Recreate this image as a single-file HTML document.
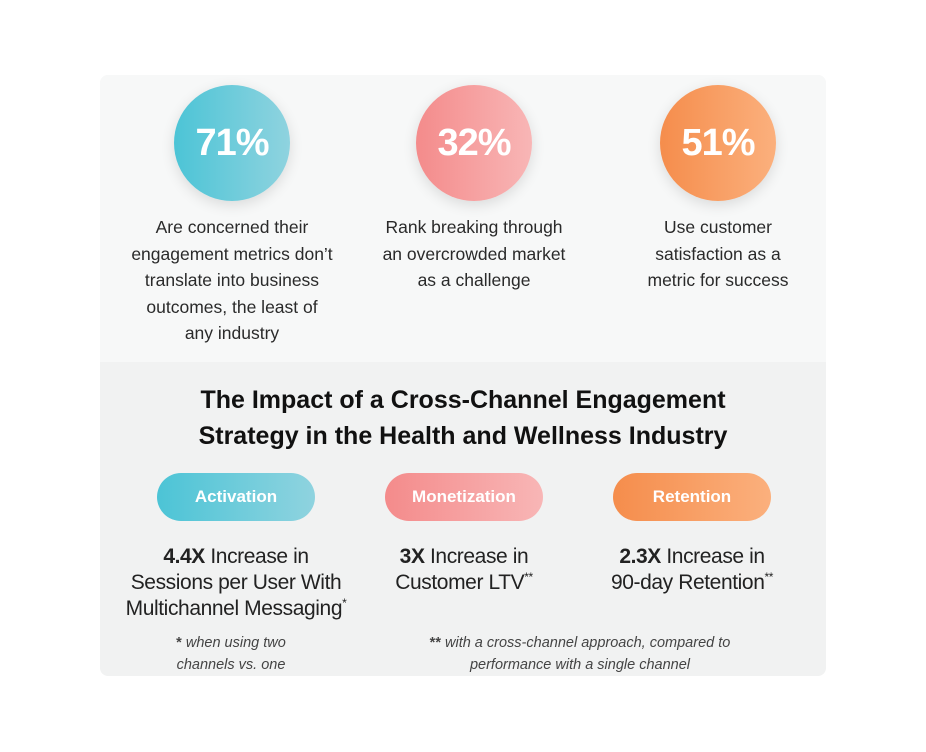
<!DOCTYPE html>
<html><head><meta charset="utf-8"><style>
body{margin:0;width:926px;height:752px;background:#fff;font-family:"Liberation Sans",sans-serif;position:relative;overflow:hidden}
.a{position:absolute}
.card{left:100px;top:75px;width:726px;height:601px;border-radius:8px;background:#f1f2f2;overflow:hidden}
.top{left:0;top:0;width:726px;height:287px;background:#f7f8f8}
.circ{width:116px;height:116px;border-radius:50%;color:#fff;font-weight:bold;font-size:38px;display:flex;align-items:center;justify-content:center;box-shadow:0 4px 14px rgba(0,0,0,.12);letter-spacing:-1px}
.desc{width:240px;text-align:center;font-size:17.5px;line-height:26.5px;color:#2a2a2a}
.pill{width:158px;height:48px;border-radius:24px;color:#fff;font-weight:bold;font-size:17px;display:flex;align-items:center;justify-content:center}
.big{width:280px;text-align:center;font-size:21px;line-height:26px;color:#222;letter-spacing:-0.4px}
.sp{font-size:12px;line-height:0;vertical-align:8px}
.foot{text-align:center;font-style:italic;font-size:14.5px;line-height:22px;color:#444}
.teal{background:linear-gradient(90deg,#4cc4d6,#8fd3df)}
.pink{background:linear-gradient(90deg,#f48b8b,#f8b6b6)}
.orng{background:linear-gradient(90deg,#f58d4c,#fbb07d)}
</style></head><body>
<div class="a card">
<div class="a top"></div>
<div class="a circ teal" style="left:74px;top:10px">71%</div>
<div class="a circ pink" style="left:316px;top:10px">32%</div>
<div class="a circ orng" style="left:560px;top:10px">51%</div>
<div class="a desc" style="left:12px;top:139px">Are concerned their<br>engagement metrics don’t<br>translate into business<br>outcomes, the least of<br>any industry</div>
<div class="a desc" style="left:254px;top:139px;width:240px">Rank breaking through<br>an overcrowded market<br>as a challenge</div>
<div class="a desc" style="left:498px;top:139px">Use customer<br>satisfaction as a<br>metric for success</div>
<div class="a" style="left:0;top:307px;width:726px;text-align:center;font-weight:bold;font-size:25px;line-height:36px;color:#111">The Impact of a Cross-Channel Engagement<br>Strategy in the Health and Wellness Industry</div>
<div class="a pill teal" style="left:57px;top:398px">Activation</div>
<div class="a pill pink" style="left:285px;top:398px">Monetization</div>
<div class="a pill orng" style="left:513px;top:398px">Retention</div>
<div class="a big" style="left:-4px;top:469px"><b>4.4X</b> Increase in<br>Sessions per User With<br>Multichannel Messaging<span class="sp">*</span></div>
<div class="a big" style="left:224px;top:469px"><b>3X</b> Increase in<br>Customer LTV<span class="sp">**</span></div>
<div class="a big" style="left:452px;top:469px"><b>2.3X</b> Increase in<br>90-day Retention<span class="sp">**</span></div>
<div class="a foot" style="left:36px;top:557px;width:190px"><b style="font-style:normal">*</b> when using two<br>channels vs. one</div>
<div class="a foot" style="left:270px;top:557px;width:420px"><b style="font-style:normal">**</b> with a cross-channel approach, compared to<br>performance with a single channel</div>
</div>
</body></html>
